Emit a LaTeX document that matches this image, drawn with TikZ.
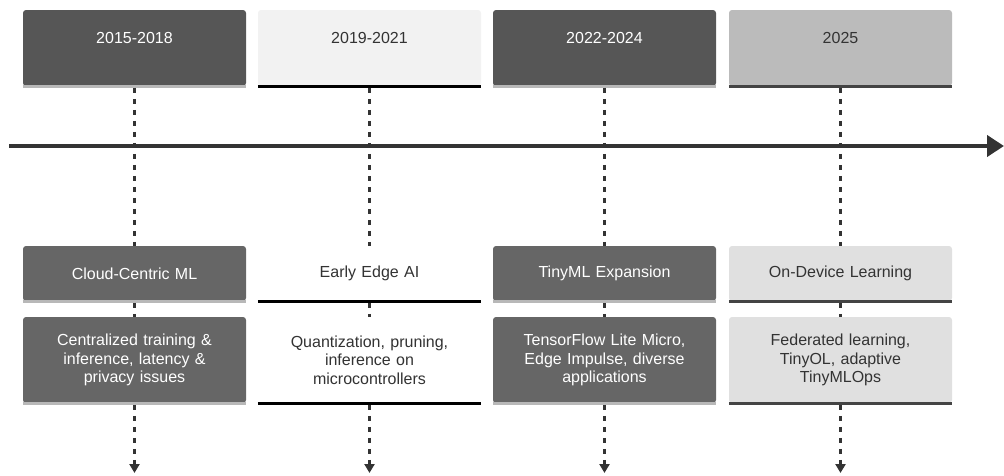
\documentclass[tikz,border=0pt]{standalone}
\usepackage{fontspec}
\setmainfont{Liberation Sans}
\usetikzlibrary{arrows.meta}

\definecolor{ink}{HTML}{333333}
\definecolor{darkA}{HTML}{565656}
\definecolor{darkB}{HTML}{666666}
\definecolor{paleA}{HTML}{F2F2F2}
\definecolor{greyA}{HTML}{BBBBBB}
\definecolor{greyB}{HTML}{E0E0E0}
\definecolor{edgeLight}{HTML}{B8B8B8}
\definecolor{edgeDark}{HTML}{444444}

\tikzset{
  txt/.style={font=\fontsize{16}{18.4}\selectfont, align=center},
  card/.style={txt, rectangle, rounded corners=3pt, minimum width=223pt,
    inner xsep=4pt, inner ysep=0pt, text width=214pt},
  yearcard/.style={card, text height=33.7pt, text depth=42.3pt},
  phasecard/.style={card, minimum height=55pt},
  detailcard/.style={card, minimum height=86pt},
  darkcard/.style={fill=#1, text=white},
  lightcard/.style={fill=#1, text=ink},
  rule/.style={line width=2.8pt, draw=#1},
  tick/.style={ink, line width=2.6pt, dash pattern=on 5.5pt off 5.5pt},
  axis/.style={ink, line width=4pt, -{Triangle[length=17pt,width=21pt]}},
}

\begin{document}
\begin{tikzpicture}[x=1pt, y=-1pt]
\useasboundingbox (0,0) rectangle (1004,475);

% time axis
\coordinate (axisL) at (9,146);
\coordinate (axisR) at (1004,146);
\draw[axis] (axisL) -- (axisR);

% year headers
\node[yearcard, darkcard=darkA]   (y1) at (134.5,48) {2015-2018};
\node[yearcard, lightcard=paleA]  (y2) at (369.5,48) {2019-2021};
\node[yearcard, darkcard=darkA]   (y3) at (604.5,48) {2022-2024};
\node[yearcard, lightcard=greyA]  (y4) at (840.5,48) {2025};

% phase titles
\node[phasecard, darkcard=darkB]  (p1) at (134.5,273.5) {Cloud-Centric ML};
\node[phasecard, lightcard=white] (p2) at (369.5,273.5) {Early Edge AI};
\node[phasecard, darkcard=darkB]  (p3) at (604.5,273.5) {TinyML Expansion};
\node[phasecard, lightcard=greyB] (p4) at (840.5,273.5) {On-Device Learning};

% phase details
\node[detailcard, darkcard=darkB]  (d1) at (134.5,360) {Centralized training \&\\inference, latency \&\\privacy issues};
\node[detailcard, lightcard=white] (d2) at (369.5,360) {Quantization, pruning,\\inference on\\microcontrollers};
\node[detailcard, darkcard=darkB]  (d3) at (604.5,360) {TensorFlow Lite Micro,\\Edge Impulse, diverse\\applications};
\node[detailcard, lightcard=greyB] (d4) at (840.5,360) {Federated learning,\\TinyOL, adaptive\\TinyMLOps};

% bottom edges of the cards
\foreach \n/\c in {y1/edgeLight, y2/black, y3/edgeLight, y4/edgeDark,
                   p1/edgeLight, p2/black, p3/edgeLight, p4/edgeDark,
                   d1/edgeLight, d2/black, d3/edgeLight, d4/edgeDark}
  \draw[rule=\c] ([yshift=-0.3pt]\n.south west) -- ([yshift=-0.3pt]\n.south east);

% dashed connectors
\foreach \i in {1,2,3,4} {
  \draw[tick] ([yshift=-1.7pt]y\i.south) -- (p\i.north);
  \draw[tick] ([yshift=-1.7pt]p\i.south) -- (d\i.north);
  \coordinate (e\i) at (d\i.south |- 0,473);
  \draw[tick, -{Triangle[length=9pt,width=10pt,sep=0pt]}] ([yshift=-1.7pt]d\i.south) -- (e\i);
}
\end{tikzpicture}
\end{document}
